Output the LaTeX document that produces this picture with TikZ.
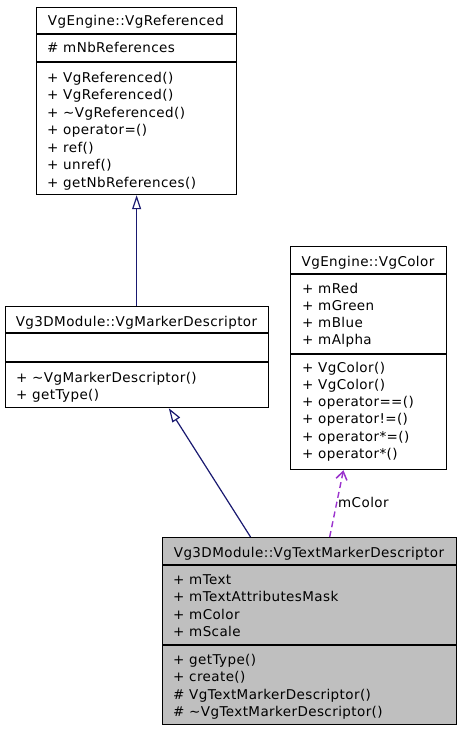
\documentclass[tikz,border=0pt]{standalone}
\usepackage{fontspec}
\setmainfont{DejaVu Sans}[LetterSpace=3]
\usetikzlibrary{arrows.meta,calc}
\definecolor{inh}{HTML}{191970}
\definecolor{dep}{HTML}{9A32CD}
\definecolor{boxgray}{HTML}{BFBFBF}
\newcommand\mylines[5]{%
  \foreach \t [count=\i] in {#5} {
    \node[member] (#1-\i) at (#2, {#3+#4*(\i-1)}) {\t};
  }}
\begin{document}
\begin{tikzpicture}[x=1pt,y=-1pt,
  cls/.style={draw=black, line width=1.2pt, anchor=north west, inner sep=0pt},
  sep/.style={line width=1.1pt},
  member/.style={anchor=base west, inner sep=0pt, font=\fontsize{13.5}{16}\selectfont},
  ttl/.style={anchor=base, inner sep=0pt, font=\fontsize{13.5}{16}\selectfont},
  inhline/.style={draw=inh, line width=1.2pt, -{Triangle[open, length=14pt, width=9pt, fill=white]}},
  depline/.style={draw=dep, line width=1.4pt, dash pattern=on 6pt off 4pt, -{Straight Barb[length=8pt, width=11pt, line width=1.5pt]}},
]
\useasboundingbox (0,0) rectangle (461,731);

% VgReferenced
\node[cls, minimum width=200pt, minimum height=187pt] (ref) at (36,7) {};
\draw[sep] (36,34) -- (236,34);
\draw[sep] (36,62) -- (236,62);
\node[ttl] (ref-t) at (136,25) {VgEngine::VgReferenced};
\mylines{refa}{47}{52}{17.5}{\# mNbReferences}
\mylines{refm}{47}{82}{17.5}{+ VgReferenced(), + VgReferenced(), + \textasciitilde VgReferenced(), + operator=(), + ref(), + unref(), + getNbReferences()}

% VgColor
\node[cls, minimum width=156pt, minimum height=223pt] (col) at (290,246) {};
\draw[sep] (290,274) -- (446,274);
\draw[sep] (290,354) -- (446,354);
\node[ttl] (col-t) at (368,266) {VgEngine::VgColor};
\mylines{cola}{302}{293}{17.3}{+ mRed, + mGreen, + mBlue, + mAlpha}
\mylines{colm}{302}{372}{17.3}{+ VgColor(), + VgColor(), + operator==(), + operator!=(), + operator*=(), + operator*()}

% VgMarkerDescriptor
\node[cls, minimum width=263pt, minimum height=101pt] (mk) at (5,306) {};
\draw[sep] (5,333) -- (268,333);
\draw[sep] (5,362) -- (268,362);
\node[ttl] (mk-t) at (136.5,326) {Vg3DModule::VgMarkerDescriptor};
\mylines{mkm}{16}{382}{17.5}{+ \textasciitilde VgMarkerDescriptor(), + getType()}

% VgTextMarkerDescriptor
\node[cls, fill=boxgray, minimum width=294pt, minimum height=187pt] (tm) at (162,537) {};
\draw[sep] (162,565) -- (456,565);
\draw[sep] (162,645) -- (456,645);
\node[ttl] (tm-t) at (309,557) {Vg3DModule::VgTextMarkerDescriptor};
\mylines{tma}{173}{584}{17.5}{+ mText, + mTextAttributesMask, + mColor, + mScale}
\mylines{tmm}{173}{664}{17.5}{+ getType(), + create(), \# VgTextMarkerDescriptor(), \# \textasciitilde VgTextMarkerDescriptor()}

% connectors
\draw[inhline] (mk.north -| ref.south) -- (ref.south);
\coordinate (tmA) at ($(tm.north west)!0.30!(tm.north east)$);
\coordinate (mkB) at ($(mk.south west)!0.62!(mk.south east)$);
\draw[inhline] (tmA) -- (mkB);
\coordinate (tmC) at ($(tm.north west)!0.568!(tm.north east)$);
\coordinate (colD) at ($(col.south west)!0.34!(col.south east)$);
\draw[depline] (tmC) -- (colD);
\node[member, anchor=west] (lbl) at (338,502) {mColor};
\end{tikzpicture}
\end{document}
